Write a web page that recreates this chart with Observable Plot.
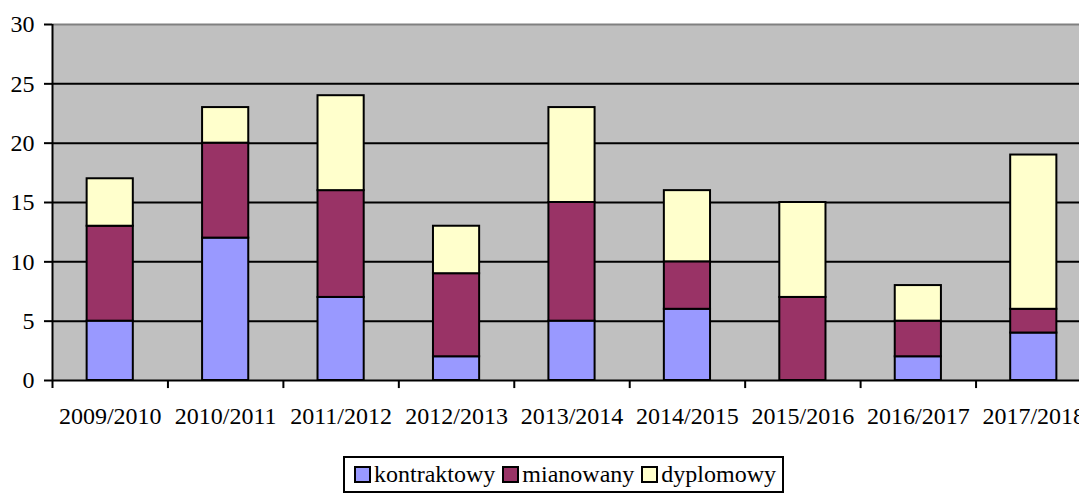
<!DOCTYPE html>
<html><head><meta charset="utf-8">
<script src="https://cdn.jsdelivr.net/npm/d3@7"></script>
<script src="https://cdn.jsdelivr.net/npm/@observablehq/plot@0.6"></script>
<style>
html,body{margin:0;padding:0;background:#fff;overflow:hidden;width:1079px;height:495px;}
#chart{position:absolute;left:0;top:0;}
#legend{position:absolute;left:343px;top:456px;width:441px;height:37px;border:2px solid #000;box-sizing:border-box;
font-family:"Liberation Serif","Times New Roman","DejaVu Serif",serif;font-size:24px;display:flex;align-items:center;justify-content:center;background:#fff;white-space:nowrap;}
.sw{display:inline-block;width:13px;height:13px;border:2px solid #000;margin:0 3px 0 5px;}
.it{display:inline-flex;align-items:center;margin-right:2px;}
</style></head>
<body>
<div id="chart"></div>
<div id="legend"></div>
<script>
const categories = ["2009/2010","2010/2011","2011/2012","2012/2013","2013/2014","2014/2015","2015/2016","2016/2017","2017/2018"];
const seriesNames = ["kontraktowy","mianowany","dyplomowy"];
const seriesColors = ["#9999FF","#993366","#FFFFCC"];
const kontraktowy = [5,12,7,2,5,6,0,2,4];
const mianowany   = [8,8,9,7,10,4,7,3,2];
const dyplomowy   = [4,3,8,4,8,6,8,3,13];
const yTicks = [0,5,10,15,20,25,30];

const allSeries = [kontraktowy, mianowany, dyplomowy];
const data = [];
seriesNames.forEach((s, si) => categories.forEach((c, ci) => {
  data.push({cat: c, series: s, value: allSeries[si][ci]});
}));
const bars = data.filter(d => d.value > 0);

const font = "'Liberation Serif', 'Times New Roman', 'DejaVu Serif', serif";
const left = 52, right = 1091;
const step = (right - left) / categories.length;

const chart = Plot.plot({
  width: 1079,
  height: 445,
  marginLeft: left,
  marginRight: 0,
  marginTop: 24,
  marginBottom: 65,
  style: {fontFamily: font, fontSize: "24px", background: "transparent", overflow: "hidden", maxWidth: "none"},
  x: {type: "band", domain: categories, range: [left, right], paddingInner: 0.6, paddingOuter: 0.3, round: false, label: null},
  y: {domain: [0, 30], label: null},
  color: {domain: seriesNames, range: seriesColors},
  marks: [
    Plot.frame({fill: "#C0C0C0", stroke: null}),
    Plot.ruleY([30], {stroke: "#808080", strokeWidth: 2}),
    Plot.gridY(yTicks.filter(t => t > 0 && t < 30), {stroke: "#000", strokeOpacity: 1, strokeWidth: 2}),
    Plot.barY(bars, {x: "cat", y: "value", fill: "series", stroke: "#000", strokeWidth: 2, order: seriesNames}),
    Plot.ruleY([0], {stroke: "#000", strokeWidth: 2}),
    Plot.axisY(yTicks, {tickSize: 8, tickPadding: 10, stroke: "#000", strokeWidth: 2, fill: "#000", fontSize: 24, fontFamily: font}),
    Plot.ruleX([categories[0]], {x: d => d, dx: -step / 2, y1: -0.68, y2: 30, stroke: "#000", strokeWidth: 2}),
    Plot.ruleX(categories, {x: d => d, dx: step / 2, y1: -0.68, y2: 0, stroke: "#000", strokeWidth: 2}),
    Plot.axisX({tickSize: 0, tickPadding: 26, fill: "#000", fontSize: 24, fontFamily: font})
  ]
});
document.getElementById("chart").appendChild(chart);

const legend = document.getElementById("legend");
seriesNames.forEach((s, i) => {
  const it = document.createElement("span");
  it.className = "it";
  const sw = document.createElement("span");
  sw.className = "sw";
  sw.style.background = seriesColors[i];
  it.appendChild(sw);
  it.appendChild(document.createTextNode(s));
  legend.appendChild(it);
});
</script>
</body></html>
